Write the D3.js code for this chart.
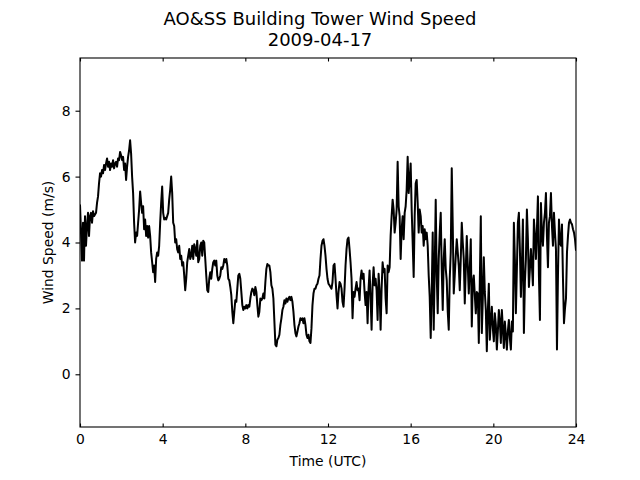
<!DOCTYPE html>
<html><head><meta charset="utf-8">
<script src="https://cdn.jsdelivr.net/npm/d3@7"></script>
<style>body{margin:0;background:#fff} svg{display:block;font-family:"DejaVu Sans",sans-serif}</style>
</head><body>
<svg id="chart" width="640" height="480"></svg>
<script>
const titleLines = ["AO&SS Building Tower Wind Speed", "2009-04-17"];
const xLabel = "Time (UTC)";
const yLabel = "Wind Speed (m/s)";
const xTickValues = [0, 4, 8, 12, 16, 20, 24];
const yTickValues = [0, 2, 4, 6, 8];
const xDomain = [0, 24];
const yDomain = [-1.6, 9.6];

// wind speed (m/s), regular samples spanning 00 UTC to 24 UTC
const speeds = [
 5.15,4.3,3.45,4.6,3.45,4.8,3.9,4.5,4.9,4.2,
 4.8,4.9,4.6,4.95,4.8,4.85,4.9,5.2,5.4,5.8,
 6.1,6.0,6.2,6.1,6.35,6.2,6.4,6.55,6.3,6.45,
 6.2,6.4,6.3,6.5,6.25,6.4,6.45,6.3,6.55,6.5,
 6.75,6.65,6.5,6.6,6.2,6.4,5.9,6.3,6.6,6.8,
 7.1,6.7,6.0,5.5,4.6,4.0,4.3,4.2,4.6,5.0,
 5.55,
 5.2,4.9,5.1,4.4,4.7,4.2,4.5,4.15,4.5,4.2,
 3.7,3.4,3.1,3.3,2.8,3.5,3.7,3.6,3.9,4.6,
 5.2,5.7,4.9,4.7,4.75,4.7,4.8,4.9,5.3,5.6,
 6.0,5.5,4.6,4.5,4.0,4.1,3.8,3.7,3.9,3.5,
 3.6,3.3,3.4,3.0,2.55,2.9,3.4,3.6,3.8,3.5,
 3.6,3.9,3.5,3.95,3.8,3.6,4.05,3.4,3.5,3.9,
 4.0,
 3.6,4.05,4.0,3.5,3.0,2.55,2.5,2.9,3.1,2.9,
 3.2,3.4,3.45,3.3,3.45,3.0,2.85,2.9,3.0,3.25,
 3.2,3.3,3.5,3.4,3.5,3.3,2.9,2.85,2.65,2.4,
 1.9,1.55,1.9,2.25,2.2,2.6,3.0,3.05,2.9,2.5,
 2.1,1.95,2.05,2.0,2.1,2.0,2.1,2.05,2.3,2.5,
 2.6,2.55,2.4,2.65,2.5,2.1,1.75,1.9,2.3,2.25,
 2.3,2.45,2.3,
 2.8,3.2,3.35,3.3,3.3,3.1,2.7,2.6,2.3,1.6,
 0.9,0.85,1.05,1.1,1.2,1.5,1.7,1.95,2.05,2.25,
 2.15,2.3,2.2,2.3,2.35,2.25,2.35,2.2,1.9,1.5,
 1.25,1.15,1.3,1.45,1.55,1.7,1.65,1.7,1.55,1.7,
 1.5,1.2,1.1,1.2,1.0,0.95,1.4,2.1,2.45,2.6,
 2.6,2.7,2.75,2.9,3.0,3.5,3.9,4.05,4.1,3.9,
 3.6,3.2,
 2.9,2.75,2.7,2.65,2.6,2.8,3.3,3.35,2.9,2.4,
 2.0,2.5,2.8,2.75,2.6,2.2,2.05,2.6,3.3,3.8,
 4.1,4.15,3.8,3.4,2.9,1.7,2.5,2.35,2.6,2.8,
 2.55,2.6,2.25,2.9,3.15,2.9,3.05,2.5,2.1,2.5,
 1.55,2.6,3.15,2.3,1.35,2.7,3.25,2.7,2.9,2.55,
 1.65,3.05,2.5,1.35,2.6,3.4,3.1,3.2,2.3,1.85,
 3.3,3.1,
 3.25,4.2,4.8,5.3,5.0,4.3,4.6,5.0,6.45,5.1,
 4.8,3.5,4.4,4.8,4.1,4.9,5.1,5.6,6.6,5.5,
 5.9,6.4,5.0,4.0,2.95,4.8,5.8,5.9,5.2,4.3,
 5.0,4.8,4.3,4.5,3.9,4.4,4.1,4.3,3.9,3.0,
 2.35,1.1,2.5,4.3,1.35,3.2,5.3,3.0,1.85,3.5,
 4.3,4.9,3.2,1.95,3.5,4.1,3.2,2.85,1.9,1.35,
 2.9,3.7,
 6.25,4.5,2.45,3.0,3.6,4.1,3.7,3.3,2.55,3.5,
 4.6,4.0,3.5,2.15,3.2,4.2,3.3,2.45,3.2,4.1,
 1.45,2.8,3.0,2.4,1.85,2.5,2.45,0.95,2.8,4.8,
 1.25,2.3,3.55,2.5,1.95,0.7,1.9,2.75,1.05,1.6,
 2.05,1.4,1.0,1.85,1.5,0.75,1.3,1.95,1.6,0.95,
 1.95,1.4,0.8,1.6,1.2,0.75,1.3,1.65,1.1,0.75,
 1.6,
 1.3,4.6,3.5,1.85,3.2,4.6,4.9,3.8,2.35,3.3,
 4.7,1.25,2.8,3.5,5.0,4.1,2.65,3.2,3.8,3.3,
 2.7,4.7,4.2,3.5,4.4,5.4,3.0,1.65,5.2,4.3,
 3.9,4.6,4.9,5.5,4.2,3.25,4.6,4.8,5.5,4.5,
 3.9,4.9,4.3,3.8,0.75,3.0,4.7,4.0,3.9,4.55,
 2.9,1.55,2.0,2.3,3.7,4.2,4.6,4.7,4.6,4.55,
 4.4,4.3,4.1,3.75
];
// regular sampling grid across the day
const hours = speeds.map((_, i) => xDomain[0] + i * (xDomain[1] - xDomain[0]) / (speeds.length - 1));

const svg = d3.select("#chart");
const W = 640;
const L = 80, R = 576, T = 58, B = 427;
const x = d3.scaleLinear().domain(xDomain).range([L, R]);
const y = d3.scaleLinear().domain(yDomain).range([B, T]);

const fs = "13.9px";

// clip
svg.append("defs").append("clipPath").attr("id", "clip")
  .append("rect").attr("x", L).attr("y", T).attr("width", R - L).attr("height", B - T);

// line
const line = d3.line().x((d, i) => x(hours[i])).y(d => y(d));
svg.append("path").datum(speeds)
  .attr("clip-path", "url(#clip)")
  .attr("d", line)
  .attr("fill", "none").attr("stroke", "#000")
  .attr("stroke-width", 2).attr("stroke-linejoin", "round").attr("stroke-linecap", "butt");

// bottom axis (ticks inward)
const gx = svg.append("g").attr("transform", `translate(0,${B})`)
  .call(d3.axisBottom(x).tickValues(xTickValues).tickFormat(d3.format("d"))
    .tickSizeInner(-3.5).tickSizeOuter(0).tickPadding(7.5));
// top axis (ticks inward, no labels)
const gt = svg.append("g").attr("transform", `translate(0,${T})`)
  .call(d3.axisTop(x).tickValues(xTickValues).tickFormat("")
    .tickSizeInner(-3.5).tickSizeOuter(0));
// left axis (ticks outward)
const gy = svg.append("g").attr("transform", `translate(${L},0)`)
  .call(d3.axisLeft(y).tickValues(yTickValues).tickFormat(d3.format("d"))
    .tickSizeInner(4.5).tickSizeOuter(0).tickPadding(5));

[gx, gt, gy].forEach(g => {
  g.select(".domain").remove();
  g.selectAll(".tick line").attr("stroke", "#000").attr("stroke-width", 1.1);
  g.selectAll(".tick text").attr("font-size", fs).attr("fill", "#000")
    .attr("font-family", '"DejaVu Sans", sans-serif');
});

// frame
svg.append("rect").attr("x", L).attr("y", T).attr("width", R - L).attr("height", B - T)
  .attr("fill", "none").attr("stroke", "#000").attr("stroke-width", 1.1);

// labels
svg.append("text").attr("x", (L + R) / 2).attr("y", 466)
  .attr("text-anchor", "middle").attr("font-size", fs).text(xLabel);
svg.append("text").attr("transform", `translate(53,${(T + B) / 2}) rotate(-90)`)
  .attr("text-anchor", "middle").attr("font-size", fs).text(yLabel);

// title (centred on the figure)
svg.append("g").selectAll("text").data(titleLines).join("text")
  .attr("x", W / 2).attr("y", (d, i) => 24.5 + i * 21)
  .attr("text-anchor", "middle").attr("font-size", "18px").text(d => d);
</script>
</body></html>
